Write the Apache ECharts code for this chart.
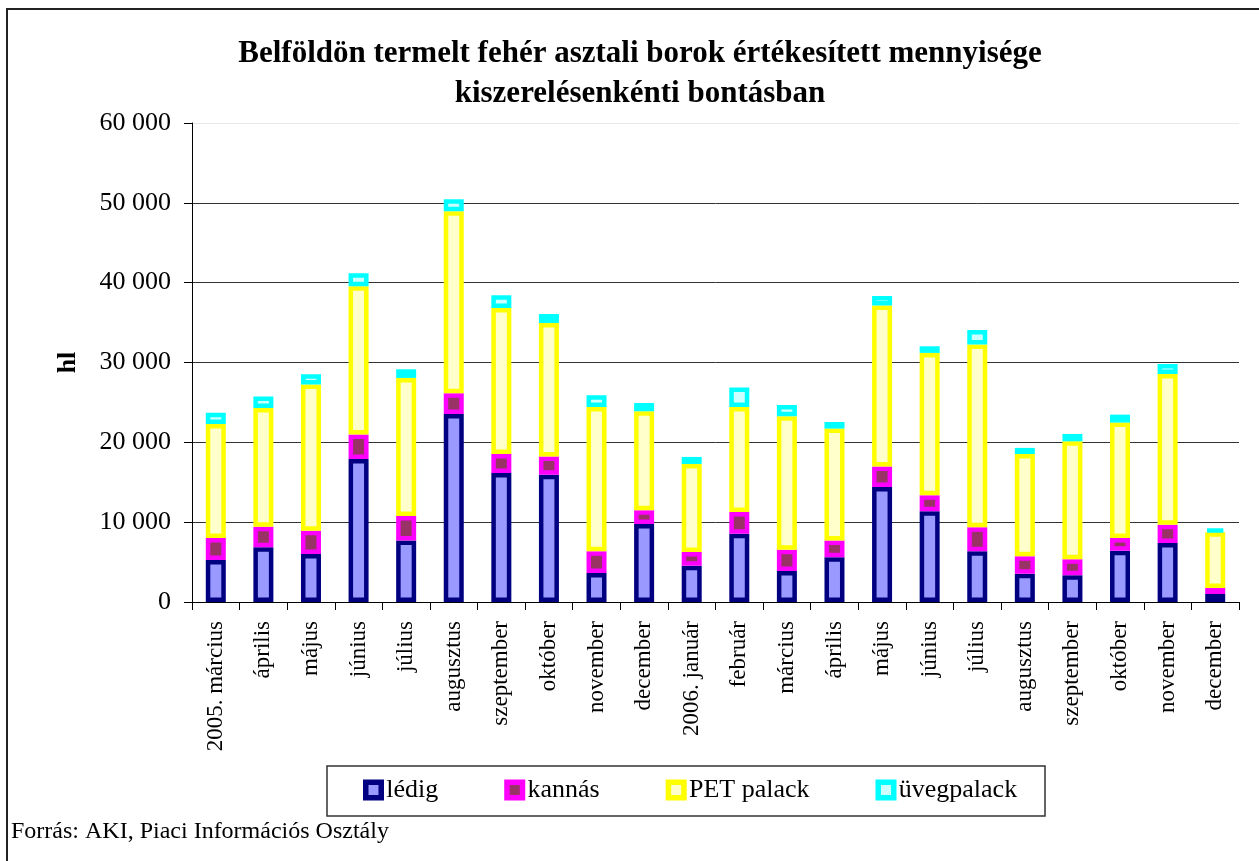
<!DOCTYPE html>
<html>
<head>
<meta charset="utf-8">
<script src="https://cdn.jsdelivr.net/npm/echarts@6/dist/echarts.min.js"></script>
<style>
  html, body { margin: 0; padding: 0; background: #fff; }
  #chart { width: 1259px; height: 861px; }
</style>
</head>
<body>
<div id="chart"></div>
<script>
const categories = ['2005. március', 'április', 'május', 'június', 'július', 'augusztus', 'szeptember', 'október', 'november', 'december', '2006. január', 'február', 'március', 'április', 'május', 'június', 'július', 'augusztus', 'szeptember', 'október', 'november', 'december'];
const ledig = [5260, 6850, 6010, 17920, 7690, 23560, 16160, 15950, 3630, 9770, 4550, 8560, 3880, 5600, 14410, 11360, 6350, 3550, 3340, 6430, 7390, 1000];
const kannas = [2760, 2590, 2930, 3050, 3090, 2580, 2380, 2260, 2720, 1720, 1720, 2720, 2680, 2090, 2550, 2000, 3010, 2170, 2010, 1590, 2300, 750];
const petPalack = [14280, 14870, 18290, 18580, 17290, 22810, 18300, 16750, 18080, 12400, 11020, 13150, 16700, 14030, 20170, 17840, 22880, 12820, 14780, 14450, 18880, 6980];
const uvegpalack = [1420, 1420, 1300, 1630, 1080, 1500, 1580, 1130, 1470, 1040, 880, 2430, 1420, 830, 1210, 830, 1840, 760, 920, 1000, 1250, 460];
const seriesNames = ['lédig', 'kannás', 'PET palack', 'üvegpalack'];
const yTicks = [0, 10000, 20000, 30000, 40000, 50000, 60000];
const titleLines = ['Belföldön termelt fehér asztali borok értékesített mennyisége', 'kiszerelésenkénti bontásban'];
const sourceText = 'Forrás: AKI, Piaci Információs Osztály';

const FONT = '"Liberation Serif", "Times New Roman", serif';
const fills = ['#9999FF', '#993366', '#FFFFCC', '#CCFFFF'];
const borders = ['#000080', '#FF00FF', '#FFFF00', '#00FFFF'];
const values = [ledig, kannas, petPalack, uvegpalack];

const chart = echarts.init(document.getElementById('chart'), null, { renderer: 'canvas' });

function fmt(v) {
  return String(v).replace(/\B(?=(\d{3})+(?!\d))/g, ' ');
}

const option = {
  backgroundColor: '#fff',
  animation: false,
  title: {
    text: titleLines.join('\n'),
    left: 640,
    top: 34,
    padding: 0,
    textAlign: 'center',
    textStyle: { fontFamily: FONT, fontSize: 31, fontWeight: 'bold', color: '#000', lineHeight: 40 }
  },
  grid: { left: 192, right: 20, top: 123, bottom: 259, containLabel: false },
  legend: {
    left: 363,
    top: 775,
    padding: 0,
    icon: 'rect',
    itemWidth: 15.5,
    itemHeight: 15.5,
    itemGap: 66,
    itemStyle: { borderWidth: 5.5 },
    textStyle: { fontFamily: FONT, fontSize: 26, color: '#000', lineHeight: 30 },
    data: seriesNames
  },
  xAxis: {
    type: 'category',
    data: categories,
    axisLine: { lineStyle: { color: '#000', width: 1 } },
    axisTick: { show: true, alignWithLabel: false, length: 8, lineStyle: { color: '#000' } },
    axisLabel: { interval: 0, rotate: 90, margin: 19, fontFamily: FONT, fontSize: 23, color: '#000' },
    splitLine: { show: false }
  },
  yAxis: {
    type: 'value',
    min: yTicks[0],
    max: yTicks[yTicks.length - 1],
    interval: yTicks[1] - yTicks[0],
    name: 'hl',
    nameLocation: 'middle',
    nameRotate: 90,
    nameGap: 111,
    nameTextStyle: { fontFamily: FONT, fontSize: 26, fontWeight: 'bold', color: '#000' },
    axisLine: { show: true, lineStyle: { color: '#000', width: 1 } },
    axisTick: { show: true, length: 8, lineStyle: { color: '#000' } },
    axisLabel: { margin: 21, fontFamily: FONT, fontSize: 26, color: '#000', formatter: fmt },
    splitLine: { show: true, lineStyle: { color: ['#333', '#333', '#333', '#333', '#333', '#333', '#e8e8e8'], width: 1 } }
  },
  series: seriesNames.map((name, i) => ({
    name: name,
    type: 'bar',
    stack: 'total',
    barWidth: 20,
    data: values[i],
    itemStyle: { color: fills[i], borderColor: borders[i], borderWidth: 4.5 }
  })),
  graphic: [
    {
      type: 'rect',
      shape: { x: 7, y: 9, width: 1300, height: 900 },
      style: { fill: null, stroke: '#222', lineWidth: 2 },
      silent: true, z: -10
    },
    {
      type: 'rect',
      shape: { x: 327, y: 766, width: 718, height: 50 },
      style: { fill: null, stroke: '#333', lineWidth: 1.5 },
      silent: true
    },
    {
      type: 'text',
      x: 11, y: 832,
      style: { text: sourceText, fontFamily: FONT, fontSize: 24, fill: '#000', align: 'left', verticalAlign: 'middle' },
      silent: true
    }
  ]
};
chart.setOption(option);
</script>
</body>
</html>
